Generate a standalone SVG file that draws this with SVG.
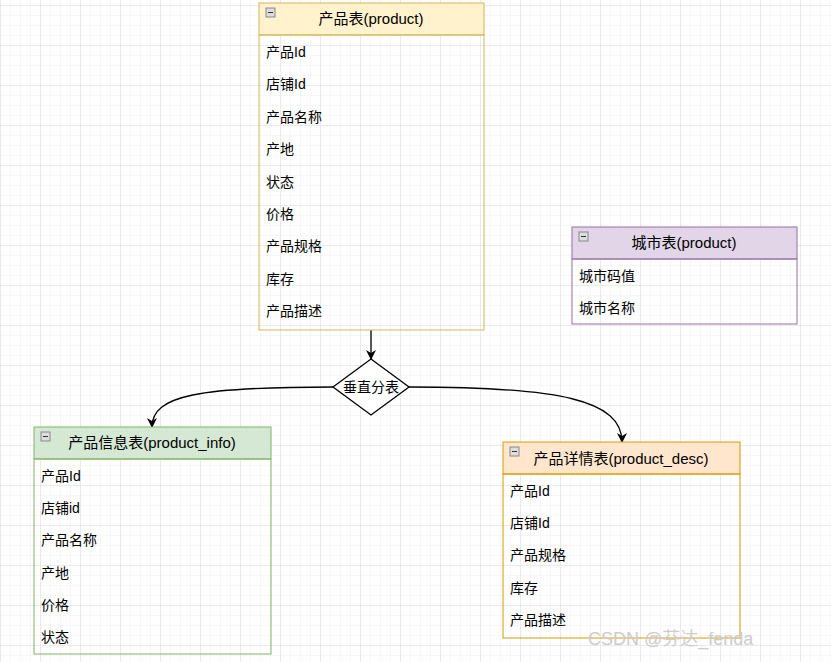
<svg xmlns="http://www.w3.org/2000/svg" width="831" height="662" viewBox="0 0 831 662">
<defs>
<pattern id="g" width="10" height="10" patternUnits="userSpaceOnUse"><path d="M10 0V10H0" fill="none" stroke="#efefef" stroke-width="1"/></pattern>
<pattern id="G" x="1" y="6" width="40" height="40" patternUnits="userSpaceOnUse"><rect width="40" height="40" fill="url(#g)"/><path d="M40 0V40H0" fill="none" stroke="#dedede" stroke-width="1"/></pattern>
<marker id="a" markerWidth="10" markerHeight="10" refX="9" refY="5" orient="auto" markerUnits="userSpaceOnUse"><path d="M0 0L10 5L0 10L3 5Z" fill="#000"/></marker>
<g id="ico"><rect x="0" y="0" width="9" height="9" fill="#ddd" stroke="#888"/><path d="M2 4.5H7" stroke="#333"/></g>
</defs>
<style>
text{font-family:"Liberation Sans","Noto Sans CJK SC",sans-serif;font-size:14px;fill:#000}
.h{text-anchor:middle;font-size:15px}
.b{fill:none}
</style>
<rect width="831" height="662" fill="#fff"/>
<rect width="831" height="662" fill="url(#G)"/>
<g id="connectors" fill="none" stroke="#000" stroke-width="1.3">
<path d="M371 330V359" marker-end="url(#a)"/>
<path d="M333 387C200 387 152 395 152 427" marker-end="url(#a)"/>
<path d="M409 387C560 387 622 400 622 442" marker-end="url(#a)"/>
</g>
<g id="split">
<path d="M371 359L409 387L371 415L333 387Z" fill="#fff" stroke="#000" stroke-width="1.3"/>
<text x="371" y="392" style="text-anchor:middle">垂直分表</text>
</g>
<g id="product">
<rect x="259" y="3" width="225" height="32" fill="#fff2cc" stroke="#d6b656"/>
<rect x="259" y="35" width="225" height="295" class="b" stroke="#d6b656"/>
<use href="#ico" x="266" y="8"/>
<text class="h" x="371" y="24">产品表(product)</text>
<text x="266" y="57">产品Id</text><text x="266" y="89">店铺Id</text><text x="266" y="122">产品名称</text>
<text x="266" y="154">产地</text><text x="266" y="187">状态</text><text x="266" y="219">价格</text>
<text x="266" y="251">产品规格</text><text x="266" y="284">库存</text><text x="266" y="316">产品描述</text>
</g>
<g id="city">
<rect x="572" y="227" width="225" height="32" fill="#e1d5e7" stroke="#9673a6"/>
<rect x="572" y="259" width="225" height="65" class="b" stroke="#9673a6"/>
<use href="#ico" x="579" y="232"/>
<text class="h" x="684" y="248">城市表(product)</text>
<text x="579" y="281">城市码值</text><text x="579" y="313">城市名称</text>
</g>
<g id="info">
<rect x="34" y="427" width="237" height="32" fill="#d5e8d4" stroke="#82b366"/>
<rect x="34" y="459" width="237" height="195" class="b" stroke="#82b366"/>
<use href="#ico" x="41" y="432"/>
<text class="h" x="152" y="448">产品信息表(product_info)</text>
<text x="41" y="481">产品Id</text><text x="41" y="513">店铺id</text><text x="41" y="545">产品名称</text>
<text x="41" y="578">产地</text><text x="41" y="610">价格</text><text x="41" y="642">状态</text>
</g>
<g id="desc">
<rect x="503" y="442" width="237" height="32" fill="#ffe6cc" stroke="#d79b00"/>
<rect x="503" y="474" width="237" height="164" class="b" stroke="#d79b00"/>
<use href="#ico" x="510" y="447"/>
<text class="h" x="621" y="464">产品详情表(product_desc)</text>
<text x="510" y="496">产品Id</text><text x="510" y="528">店铺Id</text><text x="510" y="560">产品规格</text>
<text x="510" y="593">库存</text><text x="510" y="625">产品描述</text>
</g>
<text x="588" y="645" style="font-size:18px;fill:#ccc">CSDN @芬达_fenda</text>
</svg>
